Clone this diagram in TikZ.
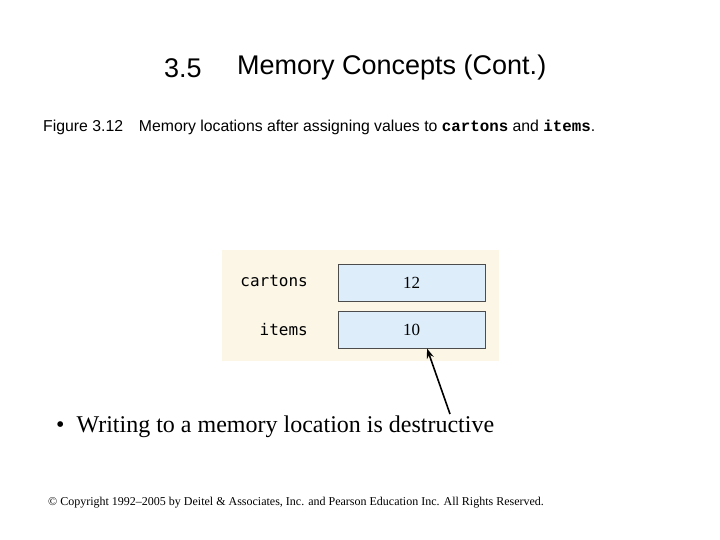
\documentclass[tikz,border=0pt]{standalone}
\usepackage{fontspec}
\usetikzlibrary{arrows.meta}
\setmainfont{Liberation Serif}
\newfontfamily\arial{Liberation Sans}
\newfontfamily\cour{Liberation Mono}
\newfontfamily\dmono{DejaVu Sans Mono}
\definecolor{panel}{HTML}{FBF6E6}
\definecolor{cell}{HTML}{DDEEFA}
\begin{document}
\begin{tikzpicture}[x=1pt,y=-1pt,
  cellbox/.style={draw=black!70,fill=cell,line width=0.8pt},
  lbl/.style={inner sep=0,font=\dmono\fontsize{16}{18}\selectfont}]
\useasboundingbox (0,0) rectangle (720,540);
\node[inner sep=0,anchor=west,font=\arial\fontsize{27}{30}\selectfont] (num) at (164,68) {3.5};
\node[inner sep=0,anchor=west,font=\arial\fontsize{27}{30}\selectfont] (title) at (237,68) {Memory Concepts (Cont.)};
\node[inner sep=0,anchor=west,font=\arial\fontsize{15.8}{18}\selectfont] (cap) at (43,127) {Figure 3.12\quad Memory locations after assigning values to {\cour\bfseries cartons} and {\cour\bfseries items}.};
\fill[panel] (222,250) rectangle (499,361);
\node[cellbox,minimum width=147,minimum height=37,inner sep=0,font=\fontsize{17}{19}\selectfont] (c1) at (411.5,282.5) {12};
\node[cellbox,minimum width=147,minimum height=37,inner sep=0,font=\fontsize{17}{19}\selectfont] (c2) at (411.5,329.5) {10};
\node[lbl,anchor=east] (l1) at (308,281) {cartons};
\node[lbl,anchor=east] (l2) at (308,330) {items};
\coordinate (tail) at (450,414);
\draw[line width=1.6pt,-{Stealth[length=10pt,width=7pt]}] (tail) -- (c2.south -| 427,0);
\node[inner sep=0,anchor=west,font=\fontsize{24}{28}\selectfont] (bul) at (56,427) {\textbullet\hspace{12pt}Writing to a memory location is destructive};
\node[inner sep=0,anchor=west,font=\fontsize{12}{14}\selectfont] (copy) at (48,503) {© Copyright 1992–2005 by Deitel \& Associates, Inc. and Pearson Education Inc. All Rights Reserved.};
\end{tikzpicture}
\end{document}
